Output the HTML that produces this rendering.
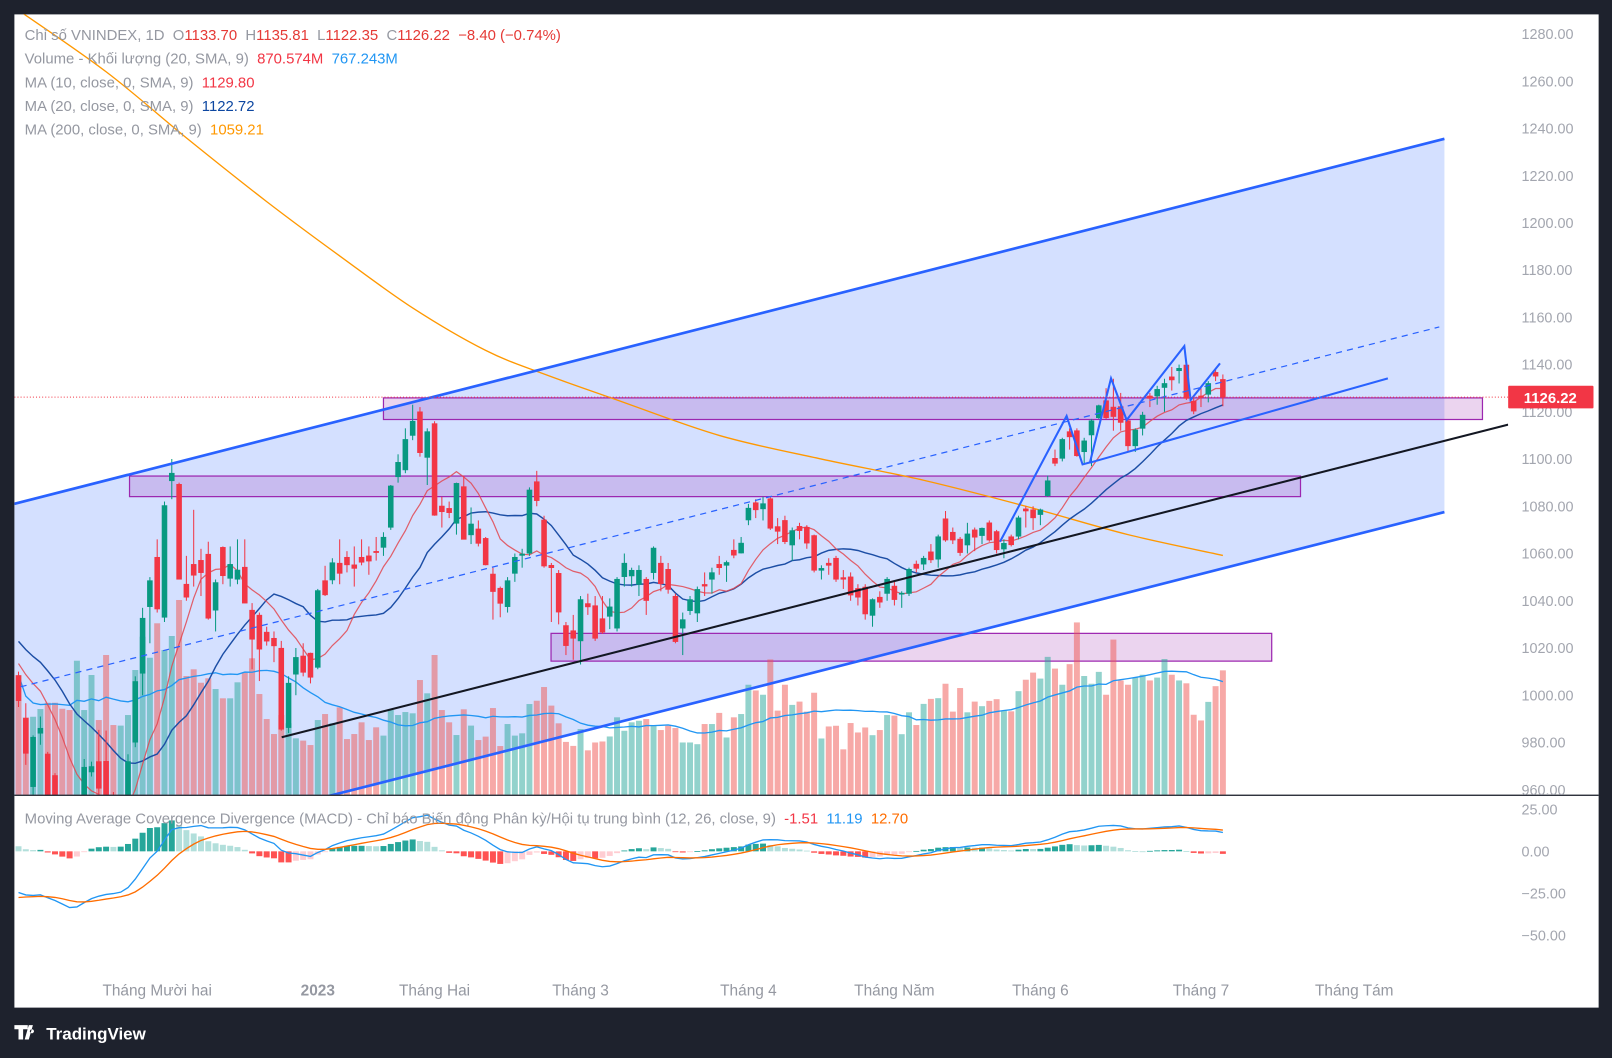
<!DOCTYPE html>
<html><head><meta charset="utf-8"><style>
html,body{margin:0;padding:0;background:#1e222d;width:1612px;height:1058px;overflow:hidden}
svg{display:block}
text{font-family:"Liberation Sans","DejaVu Sans",sans-serif;white-space:pre}
</style></head><body>
<svg id="chart" width="1612" height="1058" viewBox="0 0 1568 1029" preserveAspectRatio="none" xmlns="http://www.w3.org/2000/svg" xml:space="preserve">
<defs>
<clipPath id="mainClip"><rect x="14" y="14" width="1453" height="759"/></clipPath>
<clipPath id="macdClip"><rect x="14" y="774" width="1453" height="166"/></clipPath>
</defs>
<rect x="0" y="0" width="1568" height="1029" fill="#1e222d"/>
<rect x="14" y="14" width="1541" height="966" fill="#ffffff"/>
<g id="drawBack" clip-path="url(#mainClip)"></g>
<g id="volLayer" clip-path="url(#mainClip)"></g>
<g id="lineLayer" clip-path="url(#mainClip)"></g>
<g id="candleLayer" clip-path="url(#mainClip)"></g>
<g id="drawFront" clip-path="url(#mainClip)"></g>
<g id="macdLayer" clip-path="url(#macdClip)"></g>
<line x1="14" y1="773.5" x2="1555" y2="773.5" stroke="#131722" stroke-width="1.2"/>
<g id="axisLayer"></g>
<g font-size="14.5">
<text x="24" y="39" fill="#9598a1">Chỉ số VNINDEX, 1D  O<tspan fill="#e53935">1133.70</tspan>  H<tspan fill="#e53935">1135.81</tspan>  L<tspan fill="#e53935">1122.35</tspan>  C<tspan fill="#e53935">1126.22</tspan>  <tspan fill="#e53935">−8.40 (−0.74%)</tspan></text>
<text x="24" y="62" fill="#9598a1">Volume - Khối lượng (20, SMA, 9)  <tspan fill="#f23645">870.574M</tspan>  <tspan fill="#2196f3">767.243M</tspan></text>
<text x="24" y="85" fill="#9598a1">MA (10, close, 0, SMA, 9)  <tspan fill="#f23645">1129.80</tspan></text>
<text x="24" y="108" fill="#9598a1">MA (20, close, 0, SMA, 9)  <tspan fill="#0d47a1">1122.72</tspan></text>
<text x="24" y="131" fill="#9598a1">MA (200, close, 0, SMA, 9)  <tspan fill="#ff9800">1059.21</tspan></text>
<text x="24" y="801" fill="#9598a1">Moving Average Covergence Divergence (MACD) - Chỉ báo Biến động Phân kỳ/Hội tụ trung bình (12, 26, close, 9)  <tspan fill="#f23645">-1.51</tspan>  <tspan fill="#2196f3">11.19</tspan>  <tspan fill="#ff6d00">12.70</tspan></text>
</g>
<g>
<path d="M14 997h13v4h-4.5v10h-4.5v-10h-4z M28 997h4l-4 14h-4z M31 1001a2 2 0 1 0 0.1 0z" fill="#ffffff"/>
<text x="45" y="1011" fill="#ffffff" font-size="16.5" font-weight="bold">TradingView</text>
</g>
</svg>
<script>
const priorCloses=[1190,1185,1170,1160,1150,1140,1132,1120,1110,1095,1080,1070,1065,1060,1055,1050,1045,1040,1035,1030,1028,1030,1032,1030,1027,1025,1022,1020,1018,1015,1012,1010,1012,1015,1012];
const opens=[1008.3,990.2,961.3,983.9,975.1,966,945,935,928,955,
967.5,971.9,972,955,948,955,980.1,1009.3,1037.5,1058.4,
1033,1090.8,1089.3,1047,1055.4,1057.1,1059.7,1036,1062.6,1049.5,
1049.1,1054.2,1036,1033.9,1026.7,1024.1,1019.9,986.3,1008.9,1016.6,
1017.8,1011.8,1048.5,1048.8,1055.9,1058.4,1055.2,1058.4,1059,1060.9,
1062.6,1071.1,1092.5,1095.4,1110,1120,1100.7,1115,1080.1,1079.1,
1072.8,1088.3,1067.9,1070.4,1066.4,1051.3,1045.3,1037.5,1051.6,1059.2,
1060.1,1090.4,1074.2,1055,1051.6,1029.5,1027.3,1023,1038.8,1037.9,
1032.4,1033.4,1028.4,1050.2,1050.5,1046.9,1049.1,1051.9,1055.9,1053.3,
1041.9,1028.4,1035.8,1034.8,1046.9,1049.1,1055.4,1055,1061.4,1060.2,
1074.2,1081.5,1078.9,1083.2,1071.4,1074,1063.6,1071.5,1071.1,1067.6,
1052.9,1055.9,1058,1049.8,1050.1,1045.2,1045.8,1033.8,1041.5,1043.1,
1046.2,1042.8,1043.1,1055.5,1055.5,1060.7,1057.6,1074.7,1069,1066.1,
1063.6,1070,1067.6,1073,1069.3,1061.9,1067.1,1067.3,1078.9,1078.5,
1076.5,1084.5,1100.3,1100.3,1111.6,1112,1103.1,1110.2,1117.5,1124.7,
1122,1122.2,1116.2,1105.6,1113,1126.7,1126.7,1130.3,1134.8,1137.4,
1139.8,1124.5,1126.7,1127.4,1136.7,1133.7];
const closes=[997.7,975.4,982.2,986.0,957,950,935,925,945,969.5,
969.8,960.6,955,948,950,971.9,1005.8,1032.6,1048.5,1036.5,
1080.3,1094,1049.1,1041.5,1050.8,1051.9,1032.6,1047.7,1050.6,1055.4,
1053,1039,1023.7,1019.5,1022.9,1020.9,985.6,1005.1,1016,1009.7,
1007.6,1044.3,1042.5,1056.1,1051.6,1055.2,1053.7,1056.3,1056.8,1060.4,
1066.9,1088.6,1098.6,1108.3,1116,1102.7,1111.6,1076.2,1077.7,1077.3,
1089.7,1066,1072.5,1064.3,1055.2,1043.9,1038.9,1048.5,1058.4,1059.8,
1086.9,1082.4,1054.7,1054,1035.2,1021,1024.1,1040.5,1037.4,1024.1,
1026.7,1037.4,1049.1,1055.9,1052.9,1052.9,1040.1,1062.3,1047.2,1044.8,
1022.7,1032,1040.5,1044.8,1046.2,1051.9,1054,1056.2,1059.3,1064.4,
1079.2,1078.5,1081.1,1070.7,1069.4,1065,1069.7,1069.7,1064.4,1052.9,
1053.7,1055,1049.1,1049.1,1042.4,1041.5,1034.4,1040.5,1039.4,1049.1,
1040.5,1043.2,1053.3,1053.7,1058,1057.3,1067.1,1065.7,1065.7,1060.4,
1068.3,1066.9,1070.7,1065.7,1061.6,1064.3,1063.7,1075.1,1078,1075.1,
1078.5,1090.8,1098.2,1108.3,1109.4,1101.4,1107.7,1116.2,1122.6,1117.5,
1118,1115.5,1105.6,1112.3,1118.6,1125.7,1129.5,1132,1133.5,1138.4,
1125.7,1120.3,1126.1,1132,1135.1,1126.22];
const highs=[1010,996.6,983,991,976,967,950,940,950,973,
971.9,985.3,985,959,955,975,1008,1037,1050,1066,
1082,1100,1090,1059,1078.5,1062,1065,1049,1063,1063,
1066,1066,1039,1035,1029,1027,1023,1008,1020,1022,
1018,1045,1054.8,1058,1066,1061,1063,1066,1063,1067,
1069,1089,1102,1113,1123,1122,1113,1116,1084,1082,
1090,1093,1079.5,1074,1067,1054,1046,1050,1060,1062,
1088,1095,1076,1056,1053,1031,1034,1042,1043,1042,
1042,1041,1050,1060,1054,1055,1050,1063,1059,1056,
1043,1035,1042,1046,1052,1054,1059,1057,1066,1067,
1081,1083,1084,1084,1075,1076,1071,1073,1072,1068,
1055,1058,1059,1053,1052,1047,1047,1041,1044,1050,
1048,1044,1054,1057,1059,1064,1068,1078,1071,1067,
1073,1071,1071,1074,1070,1066,1068,1076,1080,1080,
1079,1093,1104,1109,1113,1113,1109,1117,1123,1130,
1134,1128,1117,1113,1120,1128,1131,1134,1139,1140,
1141,1126,1130,1133,1138,1135.81];
const lows=[995,970.5,955,979,955,945,925,912,920,950,
965.6,958,950,945,940,950,978,1000,1022,1035,
1031,1083,1049,1040,1046,1042,1032,1027,1047,1046,
1047,1039,1011,1006,1021,1014,985,984,1000,1008,
1005,1011,1042,1047,1047,1052,1046,1055,1051,1057,
1059,1070,1090,1094,1108,1101,1089,1076,1071,1075,
1068,1066,1064,1063,1055,1032,1033,1035,1048,1054,
1059,1080,1054,1031,1030,1017,1015,1013,1034,1023,
1026,1028,1027,1046,1046,1042,1034,1049,1044,1043,
1022,1017,1034,1031,1042,1043,1051,1048,1058,1060,
1072,1075,1074,1070,1064,1064,1057,1066,1062,1052,
1049,1051,1048,1045,1040,1038,1032,1029,1037,1040,
1038,1037,1042,1052,1053,1056,1054,1065,1064,1059,
1060,1061,1064,1065,1060,1058,1063,1066,1071,1070,
1072,1084,1097,1099,1104,1101,1098,1097,1117,1117,
1112,1112,1103,1103,1110,1122,1123,1120,1129,1132,
1125,1119,1122,1124,1133,1122.35];
const volumes=[838,542,546,600,644,644,602,593,938,593,
838,523,978,488,484,558,873,1106,959,1200,
1013,1111,1363,831,878,784,815,740,675,675,
787,854,955,705,530,425,558,500,395,379,
348,523,565,500,612,390,425,507,383,472,
414,593,558,579,570,803,710,978,593,507,
418,598,484,383,407,607,341,495,414,430,
635,658,754,624,500,370,342,460,311,366,
373,408,542,448,507,518,530,488,453,483,
467,366,366,354,495,495,573,401,542,565,
770,730,700,947,589,770,629,652,582,714,
394,478,483,318,502,436,471,417,453,558,
554,424,577,488,636,671,676,777,582,747,
577,652,620,657,669,589,584,725,805,855,
813,965,883,770,914,1206,831,777,860,700,
1086,800,770,820,840,800,820,950,840,800,
780,560,520,650,760,870.574];
const ma200Idx=[0,12,23,34,44,54,64,72,82,96,110,124,138,152,165];
const ma200Val=[1290,1264,1236,1209,1186,1164,1146,1136,1125,1110,1100,1091,1080,1068,1059.21];
const priceTicks=[1280,1260,1240,1220,1200,1180,1160,1140,1120,1100,1080,1060,1040,1020,1000,980,960];
const macdTicks=[25,0,-25,-50];
const timeLabels=["Tháng Mười hai","2023","Tháng Hai","Tháng 3","Tháng 4","Tháng Năm","Tháng 6","Tháng 7","Tháng Tám"];
const timeIdx=[19,41,57,77,100,120,140,162,183];
const lastPrice=1126.22;

const NS="http://www.w3.org/2000/svg";
const xOf=i=>18+i*7.1;
const yOf=p=>33+(1280-p)*2.297;
const volY=v=>773-v*0.139;
const macdY=m=>828-m*1.63;
function mk(tag,attrs,parent){const e=document.createElementNS(NS,tag);for(const k in attrs)e.setAttribute(k,attrs[k]);parent.appendChild(e);return e;}
const G=id=>document.getElementById(id);

const back=G('drawBack');
let el;
el=mk('polygon',{points:'14,490 1405,135 1405,498 14,852',fill:'rgba(41,98,255,0.2)'},back);


const boxes=[[373,1442,387,408],[126,1265,463,483],[536,1237,616,643]];
boxes.forEach((b,k)=>{
 el=mk('rect',{x:b[0],y:b[2],width:b[1]-b[0],height:b[3]-b[2],fill:'rgba(156,39,176,0.2)',stroke:'#9c27b0','stroke-width':1.2},back);
 
 
});

const vl=G('volLayer');
closes.forEach((c,i)=>{
 const up=c>=opens[i];
 const r=mk('rect',{x:xOf(i)-2.9,y:volY(volumes[i]),width:5.8,height:773-volY(volumes[i]),fill:up?'rgba(38,166,154,0.5)':'rgba(239,83,80,0.5)'},vl);
 
 
});
let vpts=[];
volumes.forEach((v,i)=>{const s=Math.max(0,i-19);let sum=0;for(let k=s;k<=i;k++)sum+=volumes[k];vpts.push(xOf(i)+','+volY(sum/(i-s+1)));});
el=mk('polyline',{points:vpts.join(' '),fill:'none',stroke:'#2196f3','stroke-width':1.3},vl);



const all=priorCloses.concat(closes);const P=priorCloses.length;
function smaPts(n){const pts=[];for(let i=0;i<closes.length;i++){let s=0;for(let k=0;k<n;k++)s+=all[P+i-k];pts.push(xOf(i)+','+yOf(s/n).toFixed(1));}return pts.join(' ');}
const ll=G('lineLayer');
// smooth MA200 path via Catmull-Rom through sampled values
const mp=ma200Idx.map((ix,k)=>[xOf(ix),yOf(ma200Val[k])]);
let d='M'+mp[0][0]+','+mp[0][1];
for(let k=0;k<mp.length-1;k++){
 const p0=mp[Math.max(0,k-1)],p1=mp[k],p2=mp[k+1],p3=mp[Math.min(mp.length-1,k+2)];
 d+=' C'+(p1[0]+(p2[0]-p0[0])/6).toFixed(1)+','+(p1[1]+(p2[1]-p0[1])/6).toFixed(1)+' '+(p2[0]-(p3[0]-p1[0])/6).toFixed(1)+','+(p2[1]-(p3[1]-p1[1])/6).toFixed(1)+' '+p2[0].toFixed(1)+','+p2[1].toFixed(1);
}
el=mk('path',{d:d,fill:'none',stroke:'#ff9800','stroke-width':1.3},ll);


el=mk('polyline',{points:smaPts(20),fill:'none',stroke:'#1c4ea5','stroke-width':1.4},ll);


el=mk('polyline',{points:smaPts(10),fill:'none',stroke:'rgba(226,70,80,0.85)','stroke-width':1.2},ll);



const cl=G('candleLayer');
closes.forEach((c,i)=>{
 const up=c>=opens[i];const col=up?'#089981':'#f23645';
 const g=mk('g',{},cl);
 
 
 mk('line',{x1:xOf(i),x2:xOf(i),y1:yOf(highs[i]),y2:yOf(lows[i]),stroke:col,'stroke-width':1},g);
 const t=yOf(Math.max(c,opens[i])),b=yOf(Math.min(c,opens[i]));
 mk('rect',{x:xOf(i)-2.4,y:t,width:4.8,height:Math.max(1,b-t),fill:col,stroke:col,'stroke-width':0.6},g);
});

const fr=G('drawFront');
const lines=[
 ['channel-upper-line',14,490,1405,135,'#2962ff',2.6,''],
 ['channel-lower-line',14,852,1405,498,'#2962ff',2.6,''],
 ['channel-median-line',20,668,1400,318,'#2962ff',1.2,'6,5'],
 ['black-trendline',274,717,1467,413,'#131722',2,''],
 ['flag-lower-line',1060,450,1350,368,'#2962ff',2,'']
];
lines.forEach(l=>{
 el=mk('line',{x1:l[1],y1:l[2],x2:l[3],y2:l[4],stroke:l[5],'stroke-width':l[6],'stroke-dasharray':l[7]},fr);
 
 
});
el=mk('polyline',{points:'972.7,526.9 1037.5,404.6 1053,451.7 1060.2,449.7 1080.7,368 1095.9,408.5 1152,336.6 1158.1,389 1186.7,353.4',fill:'none',stroke:'#2962ff','stroke-width':2},fr);


el=mk('line',{x1:14,x2:1467,y1:yOf(lastPrice),y2:yOf(lastPrice),stroke:'#f23645','stroke-width':1,'stroke-dasharray':'1,2'},fr);



const macd=[],sig=[];
let ef=all[0],es=all[0];
all.forEach((c,k)=>{ef=k?ef+(c-ef)*2/13:c;es=k?es+(c-es)*2/27:c;macd.push(ef-es);});
let ss=macd[0];macd.forEach((m,k)=>{ss=k?ss+(m-ss)*0.2:m;sig.push(ss);});
const ml=G('macdLayer');
let prevH=macd[P-1]-sig[P-1];
closes.forEach((c,i)=>{
 const h=macd[P+i]-sig[P+i];
 let col;
 if(h>=0)col=h>=prevH?'#26a69a':'#b2dfdb';else col=h<prevH?'#ff5252':'#ffcdd2';
 prevH=h;
 const y0=macdY(0),y1=macdY(h);
 const r=mk('rect',{x:xOf(i)-2.9,y:Math.min(y0,y1),width:5.8,height:Math.max(0.8,Math.abs(y1-y0)),fill:col},ml);
 
 
});
el=mk('polyline',{points:closes.map((c,i)=>xOf(i)+','+macdY(macd[P+i]).toFixed(1)).join(' '),fill:'none',stroke:'#2196f3','stroke-width':1.3},ml);


el=mk('polyline',{points:closes.map((c,i)=>xOf(i)+','+macdY(sig[P+i]).toFixed(1)).join(' '),fill:'none',stroke:'#ff6d00','stroke-width':1.3},ml);



const ax=G('axisLayer');
priceTicks.forEach(p=>{
 const t=mk('text',{x:1480,y:yOf(p)+5,fill:'#a3a6af','font-size':14},ax);
 t.textContent=p.toFixed(2);
 
 
});
macdTicks.forEach(m=>{
 const t=mk('text',{x:1480,y:macdY(m)+5,fill:'#a3a6af','font-size':14},ax);
 t.textContent=(m<0?'−'+Math.abs(m).toFixed(2):m.toFixed(2));
 
 
});
timeLabels.forEach((s,k)=>{
 const t=mk('text',{x:xOf(timeIdx[k]),y:968,fill:'#9598a1','font-size':15,'text-anchor':'middle','font-weight':s==='2023'?'bold':'normal'},ax);
 t.textContent=s;
 
 
});
el=mk('rect',{x:1467,y:yOf(lastPrice)-11,width:83,height:22,fill:'#f23645',rx:1},ax);


el=mk('text',{x:1508,y:yOf(lastPrice)+5.5,fill:'#ffffff','font-size':14.5,'text-anchor':'middle','font-weight':'bold'},ax);
el.textContent=lastPrice.toFixed(2);


</script>
</body></html>
